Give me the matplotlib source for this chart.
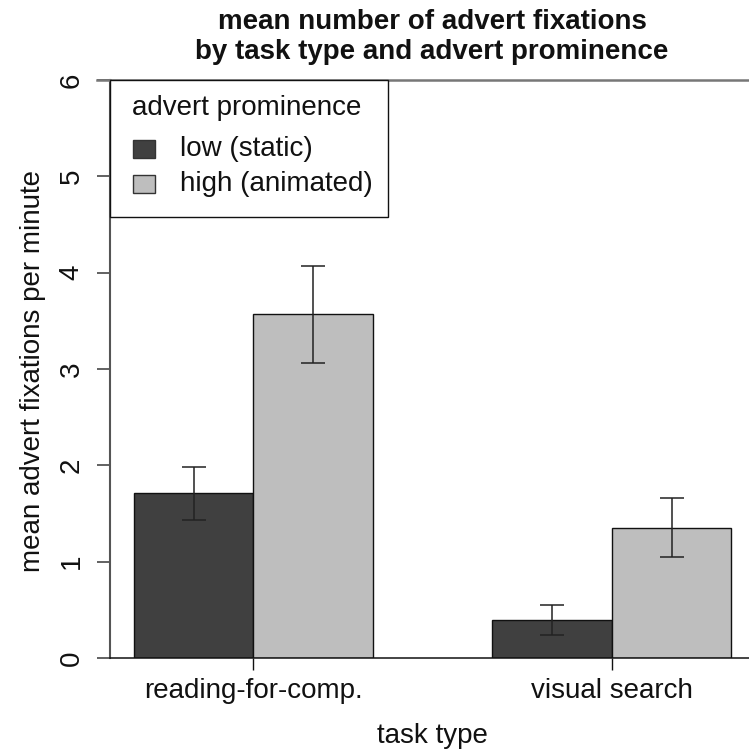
import matplotlib
matplotlib.use("Agg")
import matplotlib.pyplot as plt
from matplotlib.patches import Rectangle
import numpy as np

# Mean advert fixations per minute with lower/upper error-bar limits
categories = ["reading-for-comp.", "visual search"]
series_names = ["low (static)", "high (animated)"]
low_mean = [1.71, 0.39]
low_lower = [1.43, 0.24]
low_upper = [1.98, 0.55]
high_mean = [3.57, 1.35]
high_lower = [3.06, 1.05]
high_upper = [4.07, 1.66]
y_ticks = [0, 1, 2, 3, 4, 5, 6]

colors = ["#404040", "#bebebe"]
FONT = "Liberation Sans"
FS = 20

plt.rcParams["font.family"] = [FONT, "DejaVu Sans"]

W = H = 749
fig = plt.figure(figsize=(W / 100, H / 100), dpi=100)


def fx(p):
    return p / W


def fy(p):
    return 1 - p / H


ax = fig.add_axes([fx(110), fy(658), fx(749) - fx(110), fy(80) - fy(658)])

# grouped bar layout: width 1, one empty slot between groups
centers = np.array([2.0, 5.0])
series = [
    (low_mean, low_lower, low_upper),
    (high_mean, high_lower, high_upper),
]
for i, (m, lo, hi) in enumerate(series):
    m = np.array(m)
    xs = centers - 0.5 + i
    ax.bar(xs, m, width=1.0, color=colors[i], edgecolor="#111111",
           linewidth=1.0, zorder=2)
    yerr = np.vstack([m - np.array(lo), np.array(hi) - m])
    ax.errorbar(xs, m, yerr=yerr, fmt="none", ecolor="#222222",
                elinewidth=1.1, capsize=8.3, capthick=1.1, zorder=3)

ax.set_xlim(0.8, 0.8 + 639 / 119.5)
ax.set_ylim(0, 6)

ax.spines["right"].set_visible(False)
ax.spines["left"].set_color("#555555")
ax.spines["left"].set_linewidth(1.5)
ax.spines["top"].set_color("#777777")
ax.spines["top"].set_linewidth(1.8)
ax.spines["bottom"].set_color("#111111")
ax.spines["bottom"].set_linewidth(1.1)

ax.set_yticks(y_ticks)
ax.set_yticklabels([str(t) for t in y_ticks], rotation=90, va="center")
ax.tick_params(axis="y", length=9.4, width=1.3, color="#555555",
               pad=9, labelsize=FS, labelcolor="#111111")
ax.set_xticks(centers)
ax.set_xticklabels(categories)
ax.tick_params(axis="x", length=8.6, width=1.0, color="#111111",
               pad=6, labelsize=FS, labelcolor="#111111")

ax.patch.set_alpha(0)
# top frame line continues through the tick mark at 6
fig.add_artist(plt.Line2D([fx(97), fx(110)], [fy(80), fy(80)],
                          color="#777777", linewidth=1.8))

# legend
lx0, ly0, lx1, ly1 = 110, 80, 388, 217
fig.add_artist(Rectangle((fx(lx0), fy(ly1)), fx(lx1) - fx(lx0), fy(ly0) - fy(ly1),
                         transform=fig.transFigure, facecolor="white",
                         edgecolor="#111111", linewidth=1.0, zorder=5))
fig.text(fx(132), fy(115), "advert prominence", fontsize=FS, ha="left",
         va="baseline", color="#111111", zorder=6)
for i, (name, yc) in enumerate(zip(series_names, [149, 184])):
    fig.add_artist(Rectangle((fx(133), fy(yc + 9)), fx(22), 18 / H,
                             transform=fig.transFigure, facecolor=colors[i],
                             edgecolor="#333333", linewidth=1.0, zorder=6))
    fig.text(fx(180), fy(yc), name, fontsize=FS, ha="left",
             va="center", color="#111111", zorder=6)

# titles and axis labels
fig.text(fx(432), fy(29), "mean number of advert fixations", fontsize=FS,
         fontweight="bold", ha="center", va="baseline", color="#111111")
fig.text(fx(432), fy(59), "by task type and advert prominence", fontsize=FS,
         fontweight="bold", ha="center", va="baseline", color="#111111")
fig.text(fx(33), fy(371), "mean advert fixations per minute", fontsize=FS,
         rotation=90, ha="center", va="center", color="#111111")
fig.text(fx(432), fy(743), "task type", fontsize=FS, ha="center",
         va="baseline", color="#111111")

fig.savefig("out.png", dpi=100, facecolor="white")
